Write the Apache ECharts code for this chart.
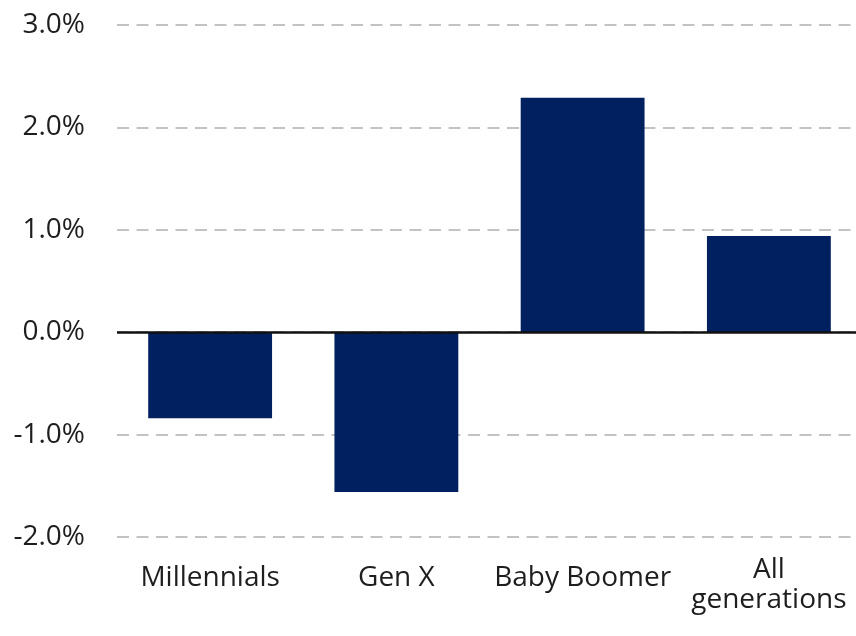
<!DOCTYPE html>
<html>
<head>
<meta charset="utf-8">
<style>
  html, body { margin: 0; padding: 0; background: #ffffff; }
  #chart { width: 856px; height: 636px; }
</style>
<script src="https://cdn.jsdelivr.net/npm/echarts@6/dist/echarts.min.js"></script>
</head>
<body>
<div id="chart"></div>
<script>
// Generations and their change, in percent
const categories = ['Millennials', 'Gen X', 'Baby Boomer', 'All\ngenerations'];
const changePct = [-0.84, -1.56, 2.29, 0.94];
const yTicks = { min: -2, max: 3, step: 1 };

const FONT = "'Open Sans', sans-serif";
const TEXT = '#1e1e1e';

const chart = echarts.init(document.getElementById('chart'), null, { renderer: 'canvas' });

chart.setOption({
  animation: false,
  backgroundColor: '#ffffff',
  grid: {
    left: 117, top: 25, width: 745, bottom: 99,
    containLabel: false,
    outerBoundsMode: 'none'
  },
  xAxis: {
    type: 'category',
    data: categories,
    axisLine: { show: false },
    axisTick: { show: false },
    axisLabel: {
      interval: 0,
      margin: 41,
      verticalAlign: 'middle',
      color: TEXT,
      fontFamily: FONT,
      fontSize: 28,
      lineHeight: 30,
      // a small empty line on top nudges two-line labels downward
      formatter: v => v.includes('\n') ? '{gap|}\n' + v : v,
      rich: { gap: { height: 15, lineHeight: 15 } }
    }
  },
  yAxis: {
    type: 'value',
    min: yTicks.min,
    max: yTicks.max,
    interval: yTicks.step,
    axisLine: { show: false },
    axisTick: { show: false },
    splitLine: {
      lineStyle: { color: '#c3c3c3', width: 2, type: [12, 7.5] }
    },
    axisLabel: {
      margin: 32,
      color: TEXT,
      fontFamily: FONT,
      fontSize: 28,
      formatter: v => v.toFixed(1) + '%'
    }
  },
  series: [{
    type: 'bar',
    data: changePct,
    barWidth: '66.5%',
    itemStyle: { color: '#002060' },
    markLine: {
      silent: true,
      symbol: 'none',
      label: { show: false },
      lineStyle: { color: '#111111', width: 2.5, type: 'solid' },
      data: [{ yAxis: 0 }]
    }
  }]
});
</script>
</body>
</html>
